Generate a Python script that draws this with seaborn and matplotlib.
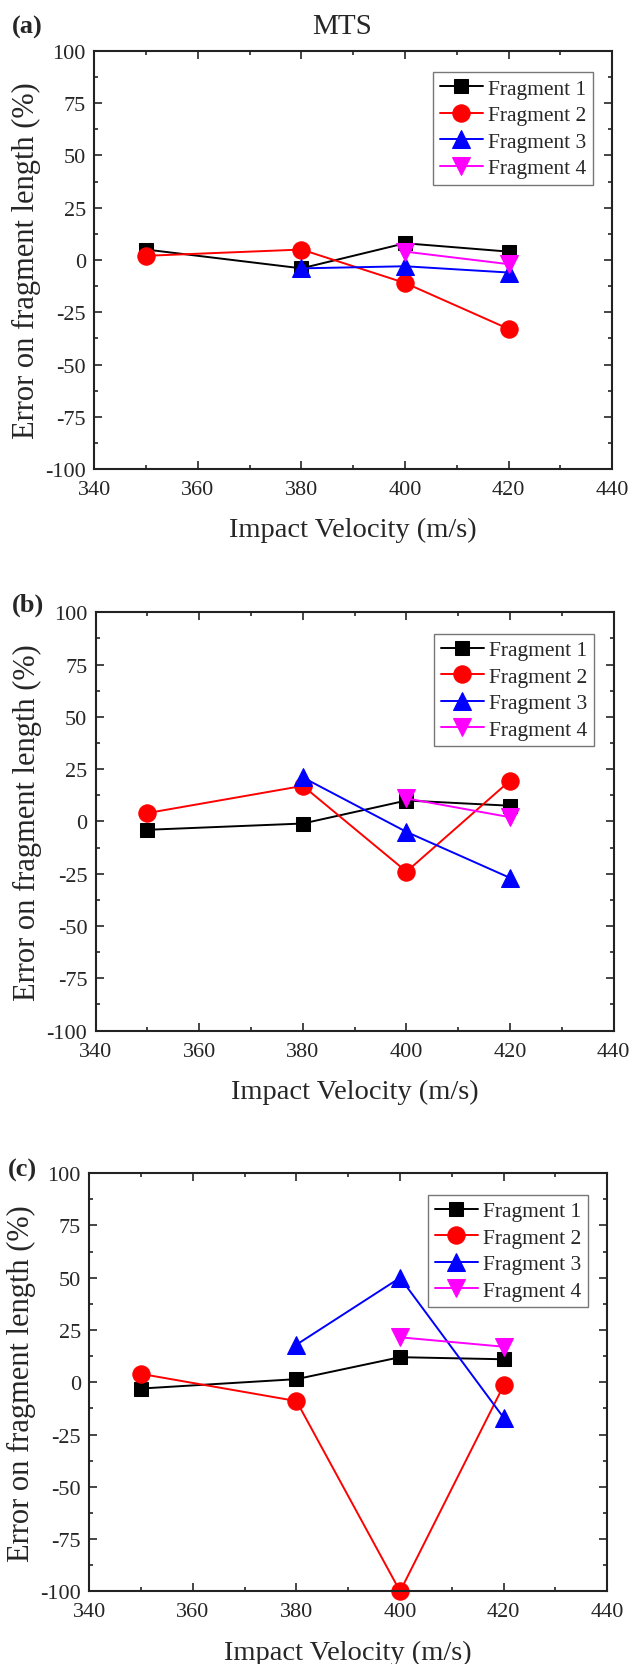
import numpy as np
import pandas as pd
import seaborn as sns
import matplotlib.pyplot as plt
from matplotlib.ticker import MultipleLocator

velocity = [350, 380, 400, 420]
fragments = ["Fragment 1", "Fragment 2", "Fragment 3", "Fragment 4"]

# error on fragment length (%), NaN where a fragment does not exist
a_frag1 = [5, -4, 8, 4]
a_frag2 = [2, 5, -11, -33]
a_frag3 = [np.nan, -4, -3, -6]
a_frag4 = [np.nan, np.nan, 4, -2]

b_frag1 = [-4, -1, 10, 7.5]
b_frag2 = [4, 17, -24, 19.5]
b_frag3 = [np.nan, 21, -5, -27]
b_frag4 = [np.nan, np.nan, 11, 2]

c_frag1 = [-3, 1.5, 12, 11]
c_frag2 = [4, -9, -100, -1.5]
c_frag3 = [np.nan, 18, 50, -17]
c_frag4 = [np.nan, np.nan, 21.5, 17]

panels = [
    ("(a)", "MTS", [a_frag1, a_frag2, a_frag3, a_frag4]),
    ("(b)", None, [b_frag1, b_frag2, b_frag3, b_frag4]),
    ("(c)", None, [c_frag1, c_frag2, c_frag3, c_frag4]),
]

colors = ["black", "red", "blue", "magenta"]
markers = ["s", "o", "^", "v"]
msizes = [10.5, 12.5, 13.5, 13.5]

sns.set_style("ticks")
plt.rcParams["font.family"] = ["Liberation Serif", "DejaVu Serif"]
plt.rcParams["axes.unicode_minus"] = False

fig = plt.figure(figsize=(6.32, 16.65), dpi=100)

# axes rectangles in figure fraction [left, bottom, width, height]
rects = [
    [0.1492, 0.7177, 0.8196, 0.2511],
    [0.1514, 0.3804, 0.8196, 0.2513],
    [0.1413, 0.04366, 0.8196, 0.2511],
]
label_y = [1 - 27 / 1665, 1 - 605 / 1665, 1 - 1170 / 1665]
label_x = [12 / 632, 12 / 632, 8 / 632]

for i, (tag, title, series) in enumerate(panels):
    ax = fig.add_axes(rects[i])
    for name, vals, c, m, ms in zip(fragments, series, colors, markers, msizes):
        df = pd.DataFrame({"v": velocity, "err": vals}).dropna()
        sns.lineplot(data=df, x="v", y="err", ax=ax, color=c, marker=m,
                     markersize=ms, markeredgecolor=c, linewidth=1.4,
                     label=name, clip_on=False)

    ax.set_xlim(340, 440)
    ax.set_ylim(-100, 100)
    ax.xaxis.set_major_locator(MultipleLocator(20))
    ax.xaxis.set_minor_locator(MultipleLocator(10))
    ax.yaxis.set_major_locator(MultipleLocator(25))
    ax.yaxis.set_minor_locator(MultipleLocator(12.5))
    ax.tick_params(which="both", direction="in", top=True, right=True,
                   width=1.2, labelsize=16)
    ax.tick_params(axis="x", which="both", pad=8)
    ax.tick_params(axis="y", which="both", pad=6)
    ax.tick_params(which="major", length=6)
    ax.tick_params(which="minor", length=3)
    for sp in ax.spines.values():
        sp.set_linewidth(1.5)
        sp.set_color("#222222")

    ax.set_xlabel("Impact Velocity (m/s)", fontsize=20.5, labelpad=13)
    ax.set_ylabel("Error on fragment length (%)", fontsize=22, labelpad=3)

    leg = ax.legend(loc="upper right", bbox_to_anchor=(0.9622, 0.949),
                    borderaxespad=0, fontsize=15.5, frameon=True, fancybox=False,
                    edgecolor="#555555", handlelength=2.0, handletextpad=0.25,
                    labelspacing=0.3, borderpad=0.3)
    leg.get_frame().set_linewidth(1.0)

    fig.text(label_x[i], label_y[i], tag, fontsize=19, fontweight="bold",
             ha="left", va="center")
    if title:
        fig.text(342 / 632, 1 - 27 / 1665, title, fontsize=21,
                 ha="center", va="center")

fig.savefig("out.png", dpi=100)
